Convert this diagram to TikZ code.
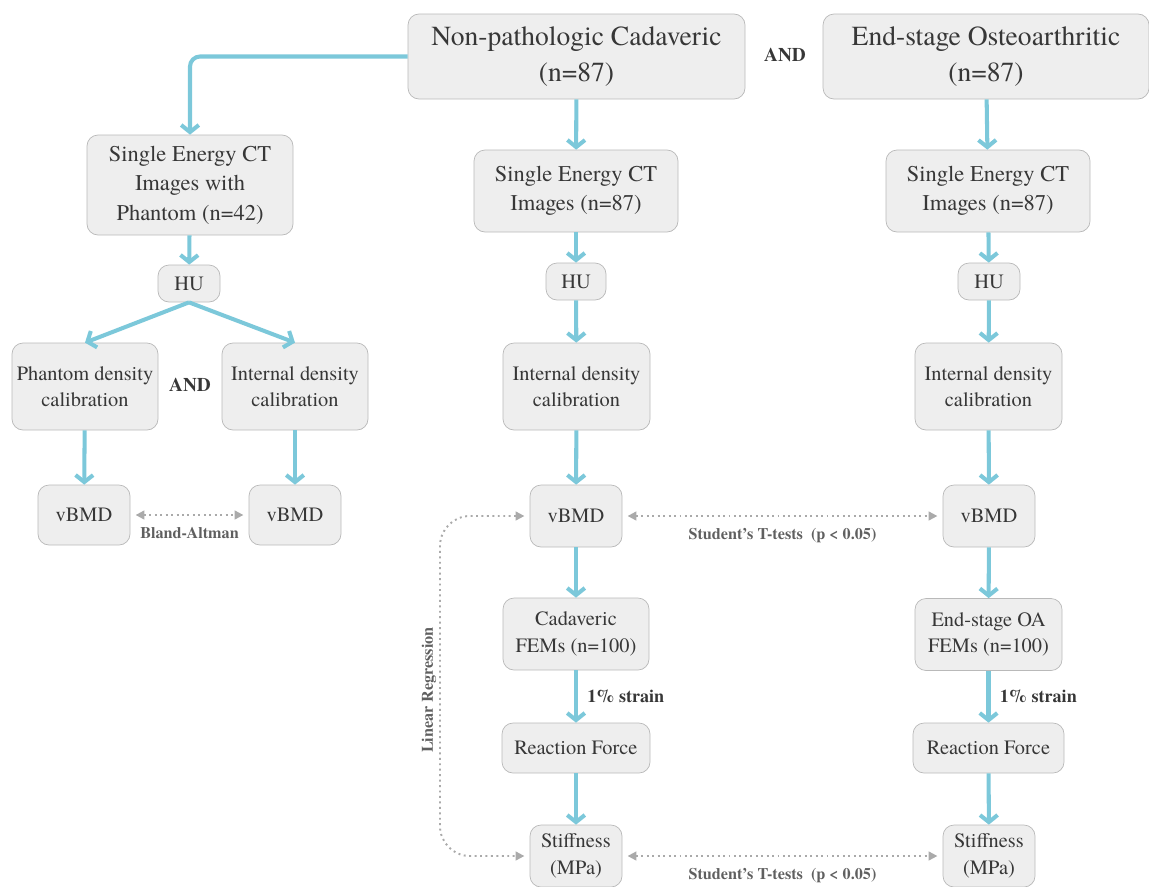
\documentclass[tikz,border=0pt]{standalone}
\usepackage{fontspec}
\setmainfont{TeX Gyre Termes}
\usetikzlibrary{arrows.meta,positioning}

\definecolor{flowblue}{RGB}{124,200,218}
\definecolor{boxgray}{RGB}{238,238,238}
\definecolor{edgegray}{RGB}{185,185,185}
\definecolor{txtgray}{RGB}{55,55,55}
\definecolor{dotgray}{RGB}{170,170,170}
\definecolor{statgray}{RGB}{95,95,95}

\begin{document}
\begin{tikzpicture}[x=0.02cm,y=-0.02cm,
    sz/.style 2 args={minimum width=#1*0.02cm,minimum height=#2*0.02cm},
    box/.style={draw=edgegray,fill=boxgray,rounded corners=0.22cm,align=center,
        text=txtgray,inner sep=0pt,font=\fontsize{11.6}{15}\selectfont},
    ctbox/.style={box,font=\fontsize{12.8}{16.7}\selectfont},
    big/.style={box,font=\fontsize{15.7}{20.5}\selectfont},
    flow/.style={color=flowblue,line width=2.3pt,-{Straight Barb[length=4pt,width=10pt]}},
    stat/.style={color=dotgray,line width=1.1pt,dotted,
        {Triangle[length=5pt,width=5pt]}-{Triangle[length=5pt,width=5pt]},
        shorten >=3pt,shorten <=3pt},
    lbl/.style={font=\bfseries\fontsize{9.2}{11}\selectfont,text=statgray},
    andlbl/.style={font=\bfseries\fontsize{11}{13}\selectfont,text=txtgray}]
    \useasboundingbox (0,0) rectangle (1149,886);

    % Populations
    \node[big,sz={337}{85}] (cad) at (576.5,56.5) {Non-pathologic Cadaveric\\(n=87)};
    \node[big,sz={326}{85}] (oa) at (986,56.5) {End-stage Osteoarthritic\\(n=87)};
    \node[andlbl] (and1) at (785,55) {AND};

    % Phantom branch
    \node[ctbox,sz={206}{100}] (sectp) at (190,185) {Single Energy CT\\Images with\\Phantom (n=42)};
    \node[box,sz={62}{37}] (hup) at (189,283.5) {HU};
    \node[box,sz={146}{87}] (phcal) at (85,386.5) {Phantom density\\calibration};
    \node[box,sz={146}{87}] (incalp) at (295,386.5) {Internal density\\calibration};
    \node[andlbl] (and2) at (190,385) {AND};
    \node[box,sz={92}{60}] (vbp1) at (84,515) {vBMD};
    \node[box,sz={92}{60}] (vbp2) at (295,515) {vBMD};

    % Cadaveric branch
    \node[ctbox,sz={204}{82}] (sectc) at (576,191) {Single Energy CT\\Images (n=87)};
    \node[box,sz={60}{37}] (huc) at (576,281.5) {HU};
    \node[box,sz={147}{87}] (incalc) at (576.5,386.5) {Internal density\\calibration};
    \node[box,sz={92}{62}] (vbc) at (576,516) {vBMD};
    \node[box,sz={146}{72}] (femc) at (576,634) {Cadaveric\\FEMs (n=100)};
    \node[box,sz={148}{50}] (rfc) at (576,748) {Reaction Force};
    \node[box,sz={92}{62}] (stc) at (576,856) {Stiffness\\(MPa)};

    % OA branch
    \node[ctbox,sz={204}{82}] (sectoa) at (988,191) {Single Energy CT\\Images (n=87)};
    \node[box,sz={62}{37}] (huoa) at (989,281.5) {HU};
    \node[box,sz={147}{87}] (incaloa) at (988.5,386.5) {Internal density\\calibration};
    \node[box,sz={92}{62}] (vboa) at (989,516) {vBMD};
    \node[box,sz={147}{72}] (femoa) at (988.5,634.5) {End-stage OA\\FEMs (n=100)};
    \node[box,sz={151}{50}] (rfoa) at (988.5,748) {Reaction Force};
    \node[box,sz={92}{62}] (stoa) at (989,856) {Stiffness\\(MPa)};

    \draw[flow,rounded corners=0.2cm] (cad.west) -| (sectp.north);
    \path[flow]
        (sectp) edge (hup)
        (hup.south) edge (phcal.north)
        (hup.south) edge (incalp.north)
        (phcal) edge (vbp1)
        (incalp) edge (vbp2)
        (cad) edge (sectc)
        (sectc) edge (huc)
        (huc) edge (incalc)
        (incalc) edge (vbc)
        (vbc) edge (femc)
        (femc) edge node[andlbl,font=\bfseries\fontsize{10.3}{12}\selectfont,right=2pt]{1\% strain} (rfc)
        (rfc) edge (stc)
        (oa) edge (sectoa)
        (sectoa) edge (huoa)
        (huoa) edge (incaloa)
        (incaloa) edge (vboa)
        (vboa) edge (femoa)
        (femoa) edge node[andlbl,font=\bfseries\fontsize{10.3}{12}\selectfont,right=2pt]{1\% strain} (rfoa)
        (rfoa) edge (stoa);

    % Statistics
    \draw[stat] (vbp1) -- node[lbl,below=3pt]{Bland-Altman} (vbp2);
    \draw[stat] (vbc) -- node[lbl,below=3pt]{Student's T-tests\ \ (p < 0.05)} (vboa);
    \draw[stat] (stc) -- node[lbl,below=3pt]{Student's T-tests\ \ (p < 0.05)} (stoa);
    \coordinate (lr) at (440,690);
    \draw[stat,rounded corners=0.6cm] (vbc.west) -| (lr) |- (stc.west);
    \node[lbl,rotate=90,anchor=south,inner sep=2pt] (linreg) at (lr) {Linear Regression};
\end{tikzpicture}
\end{document}
